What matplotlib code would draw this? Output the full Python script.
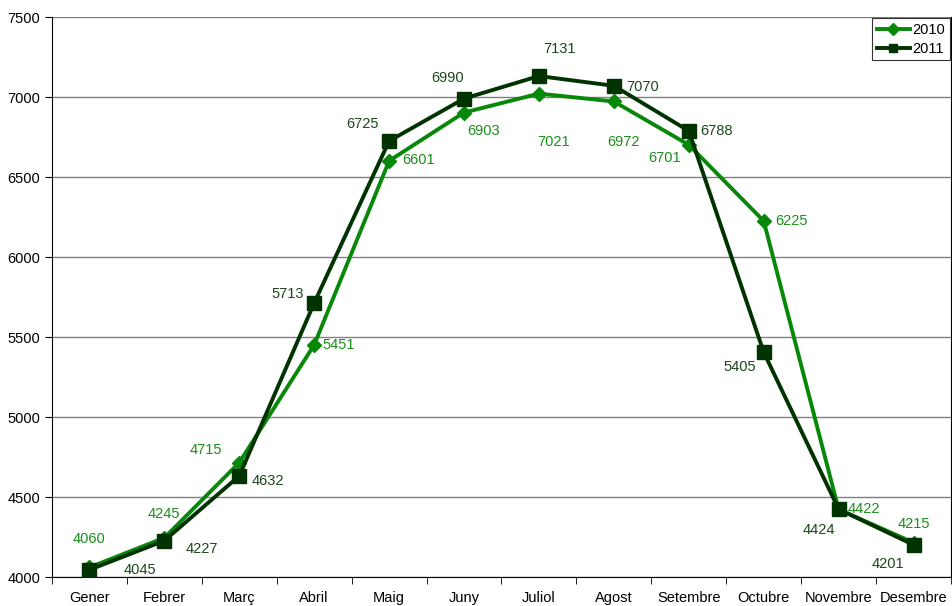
import matplotlib.pyplot as plt

plt.rcParams['font.family'] = ['Liberation Sans', 'DejaVu Sans']

months = ["Gener", "Febrer", "Març", "Abril", "Maig", "Juny", "Juliol",
          "Agost", "Setembre", "Octubre", "Novembre", "Desembre"]
v2010 = [4060, 4245, 4715, 5451, 6601, 6903, 7021, 6972, 6701, 6225, 4422, 4215]
v2011 = [4045, 4227, 4632, 5713, 6725, 6990, 7131, 7070, 6788, 5405, 4424, 4201]

# label offsets in pixels (dx, dy)
off2010 = [(0, 28), (0, 24), (-33, 13), (24, 0), (29, 1), (20, -18), (15, -48),
           (10, -41), (-24, -13), (28, 0), (25, 0), (0, 19)]
off2011 = [(50, 0), (38, -8), (29, -5), (-27, 9), (-27, 17), (-16, 21), (21, 27),
           (29, -1), (28, 0), (-24, -15), (-20, -21), (-26, -19)]

c2010 = "#088808"
c2011 = "#003300"
t2010 = "#1a8f1a"
t2011 = "#1c471c"

fig = plt.figure(figsize=(9.52, 6.06), dpi=100)
ax = fig.add_axes([52 / 952, 29 / 606, 899 / 952, 560 / 606])

x = list(range(len(months)))
ax.plot(x, v2010, color=c2010, lw=2.8, marker="D", ms=7, label="2010", zorder=3)
ax.plot(x, v2011, color=c2011, lw=2.8, marker="s", ms=9.5, label="2011", zorder=4)

for i in x:
    ax.annotate(str(v2010[i]), (i, v2010[i]), xytext=off2010[i], textcoords="offset pixels",
                ha="center", va="center", fontsize=10.5, color=t2010, zorder=5)
    ax.annotate(str(v2011[i]), (i, v2011[i]), xytext=off2011[i], textcoords="offset pixels",
                ha="center", va="center", fontsize=10.5, color=t2011, zorder=5)

ax.set_xlim(-0.5, 11.5)
ax.set_ylim(4000, 7500)
ax.set_yticks(range(4000, 7501, 500))
ax.set_xticks(x)
ax.set_xticklabels(months)
ax.set_xticks([i - 0.5 for i in range(13)], minor=True)
ax.tick_params(axis="x", which="major", length=0, pad=10, labelsize=10.5)
ax.tick_params(axis="x", which="minor", length=5, direction="out")
ax.tick_params(axis="y", length=5, direction="out", labelsize=10.5)
ax.grid(axis="y", color="#808080", lw=1)
ax.set_axisbelow(True)
ax.spines["top"].set_visible(False)
for s in ["left", "bottom", "right"]:
    ax.spines[s].set_color("black")
ax.spines["right"].set_linewidth(0.8)

leg = ax.legend(loc="upper right", fontsize=10.5, frameon=True, fancybox=False,
                borderaxespad=0.1, handlelength=2.3, borderpad=0.3, labelspacing=0.35,
                handletextpad=0.15)
leg.get_frame().set_edgecolor("black")
leg.get_frame().set_linewidth(0.8)
for h in leg.legend_handles:
    h.set_markersize(6)

fig.savefig("out.png", dpi=100)
